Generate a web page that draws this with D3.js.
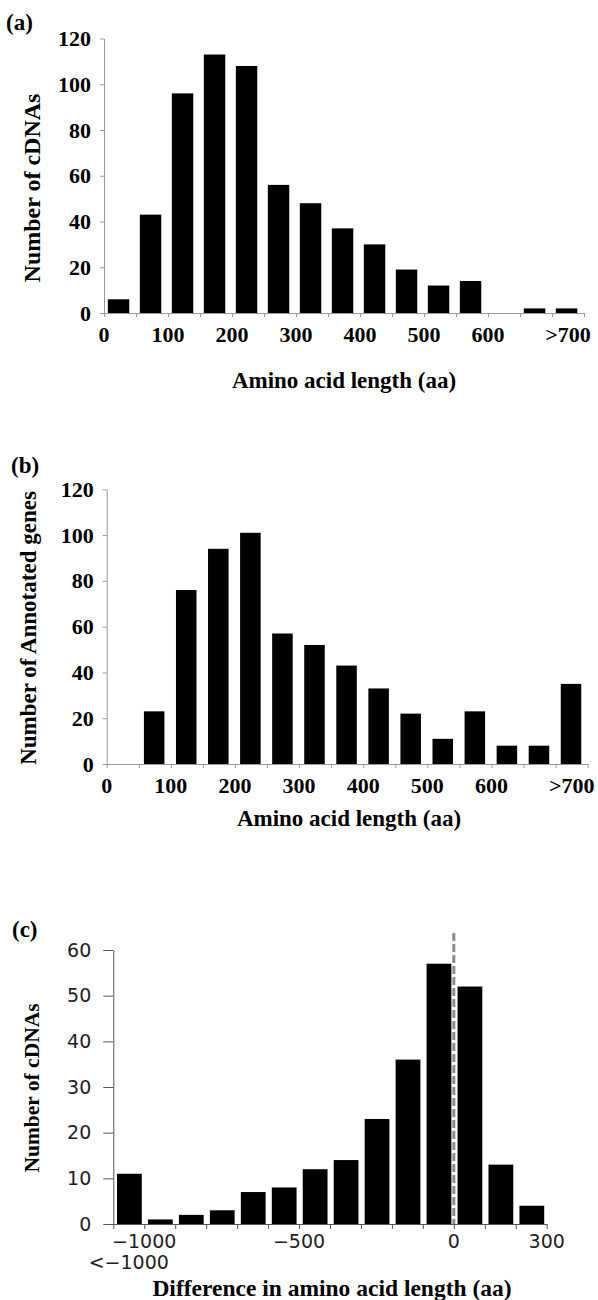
<!DOCTYPE html>
<html>
<head>
<meta charset="utf-8">
<script src="https://cdn.jsdelivr.net/npm/d3@7"></script>
<style>
  body { margin: 0; background: #fff; }
  svg { display: block; }
  .serif { font-family: "Liberation Serif", "Times New Roman", serif; font-weight: bold; }
  .sans { font-family: "DejaVu Sans", sans-serif; }
</style>
</head>
<body>
<svg id="chart" width="598" height="1300"></svg>
<script>
// (a) cDNA lengths, 50 aa bins
const binsA = [0, 50, 100, 150, 200, 250, 300, 350, 400, 450, 500, 550, 600, 650, 700];
const countsA = [6, 43, 96, 113, 108, 56, 48, 37, 30, 19, 12, 14, 0, 2, 2];
const tickLabelsA = ['0', '100', '200', '300', '400', '500', '600', '>700'];
const tickPosA = [0, 100, 200, 300, 400, 500, 600, 725];

// (b) annotated genes, same bins
const binsB = [0, 50, 100, 150, 200, 250, 300, 350, 400, 450, 500, 550, 600, 650, 700];
const countsB = [0, 23, 76, 94, 101, 57, 52, 43, 33, 22, 11, 23, 8, 8, 35];

// (c) difference in length, 100 aa bins (first bin is <-1000)
const binsC = [-1100, -1000, -900, -800, -700, -600, -500, -400, -300, -200, -100, 0, 100, 200];
const countsC = [11, 1, 2, 3, 7, 8, 12, 14, 23, 36, 57, 52, 13, 4];
const tickLabelsC = ['\u22121000', '\u2212500', '0', '300'];
const tickPosC = [-1000, -500, 0, 300];
const yTicksAB = [0, 20, 40, 60, 80, 100, 120];
const yTicksC = [0, 10, 20, 30, 40, 50, 60];

const svg = d3.select('#chart');

function panel(opt) {
    const x = d3.scaleLinear().domain(opt.xDomain).range([opt.left, opt.right]);
    const y = d3.scaleLinear().domain(opt.yDomain).range([opt.bottom, opt.top]);
    const g = svg.append('g');
    const step = opt.step;
    const bw = x(step) - x(0);

    // bars
    g.selectAll('rect.bar')
        .data(opt.bins.map((b, i) => ({ start: b, v: opt.counts[i] })).filter((d) => d.v > 0))
        .enter()
        .append('rect')
        .attr('class', 'bar')
        .attr('x', (d) => x(d.start) + bw * opt.barLeft)
        .attr('width', bw * opt.barWidth)
        .attr('y', (d) => y(d.v))
        .attr('height', (d) => y(0) - y(d.v))
        .attr('fill', '#000');

    // y axis
    const yAxis = d3.axisLeft(y)
        .tickValues(opt.yTicks)
        .tickSize(opt.yTickSize)
        .tickSizeOuter(0)
        .tickPadding(opt.yTickPad);
    const ya = g.append('g')
        .attr('transform', `translate(${opt.left},0)`)
        .call(yAxis);
    ya.select('.domain').attr('stroke', opt.axisColor);
    ya.selectAll('.tick line').attr('stroke', opt.axisColor);
    ya.selectAll('.tick text')
        .attr('class', opt.tickFont)
        .attr('font-size', opt.tickFontSize)
        .attr('fill', opt.tickColor);

    // x axis: tick marks at every bin edge, labels separately
    const edges = opt.bins.concat([opt.bins[opt.bins.length - 1] + step]);
    const xAxis = d3.axisBottom(x)
        .tickValues(edges)
        .tickSize(opt.xTickSize)
        .tickSizeOuter(0)
        .tickFormat('');
    const xa = g.append('g')
        .attr('transform', `translate(0,${opt.bottom})`)
        .call(xAxis);
    xa.select('.domain').attr('stroke', opt.axisColor);
    xa.selectAll('.tick line').attr('stroke', opt.axisColor);

    g.selectAll('text.xlab')
        .data(opt.xLabels)
        .enter()
        .append('text')
        .attr('class', opt.tickFont)
        .attr('x', (d) => x(d.pos))
        .attr('y', (d) => d.y)
        .attr('text-anchor', 'middle')
        .attr('font-size', opt.tickFontSize)
        .attr('fill', opt.tickColor)
        .text((d) => d.text);

    // axis titles
    g.append('text')
        .attr('class', 'serif')
        .attr('x', opt.xTitleX)
        .attr('y', opt.xTitleY)
        .attr('text-anchor', 'middle')
        .attr('font-size', opt.xTitleSize)
        .text(opt.xTitle);

    g.append('text')
        .attr('class', 'serif')
        .attr('transform', `translate(${opt.yTitleX},${opt.yTitleY}) rotate(-90)`)
        .attr('text-anchor', 'middle')
        .attr('font-size', opt.yTitleSize)
        .text(opt.yTitle);

    g.append('text')
        .attr('class', 'serif')
        .attr('x', opt.tagX)
        .attr('y', opt.tagY)
        .attr('font-size', 23)
        .text(opt.tag);

    return { x, y, g };
}

panel({
    tag: '(a)', tagX: 6, tagY: 30,
    bins: binsA, counts: countsA, step: 50,
    xDomain: [0, 750], yDomain: [0, 120],
    left: 104, right: 584, top: 38.5, bottom: 313,
    barLeft: 0.12, barWidth: 0.67,
    yTicks: yTicksAB, yTickSize: 4, yTickPad: 9, xTickSize: 4,
    axisColor: '#9a9a9a', tickFont: 'serif', tickFontSize: 22, tickColor: '#000',
    xLabels: tickPosA.map((p, i) => ({ pos: p, text: tickLabelsA[i], y: 342 })),
    xTitle: 'Amino acid length (aa)', xTitleX: 344, xTitleY: 388, xTitleSize: 23,
    yTitle: 'Number of cDNAs', yTitleX: 40, yTitleY: 188, yTitleSize: 24
});

panel({
    tag: '(b)', tagX: 11, tagY: 473,
    bins: binsB, counts: countsB, step: 50,
    xDomain: [0, 750], yDomain: [0, 120],
    left: 106.7, right: 587.7, top: 489.3, bottom: 764,
    barLeft: 0.16, barWidth: 0.64,
    yTicks: yTicksAB, yTickSize: 4, yTickPad: 9, xTickSize: 4,
    axisColor: '#9a9a9a', tickFont: 'serif', tickFontSize: 22, tickColor: '#000',
    xLabels: tickPosA.map((p, i) => ({ pos: p, text: tickLabelsA[i], y: 793 })),
    xTitle: 'Amino acid length (aa)', xTitleX: 349, xTitleY: 826, xTitleSize: 23,
    yTitle: 'Number of Annotated genes', yTitleX: 36, yTitleY: 628, yTitleSize: 23
});

const pc = panel({
    tag: '(c)', tagX: 12, tagY: 937,
    bins: binsC, counts: countsC, step: 100,
    xDomain: [-1100, 300], yDomain: [0, 60],
    left: 113.3, right: 546.7, top: 950, bottom: 1224,
    barLeft: 0.12, barWidth: 0.8,
    yTicks: yTicksC, yTickSize: 10, yTickPad: 12, xTickSize: 5,
    axisColor: '#555', tickFont: 'sans', tickFontSize: 19, tickColor: '#222',
    xLabels: tickPosC.map((p, i) => ({ pos: p, text: tickLabelsC[i], y: 1248 }))
        .concat([{ pos: -1050, text: '<\u22121000', y: 1269 }]),
    xTitle: 'Difference in amino acid length (aa)', xTitleX: 332, xTitleY: 1296, xTitleSize: 23.5,
    yTitle: 'Number of cDNAs', yTitleX: 39, yTitleY: 1088, yTitleSize: 21.5
});

// dashed reference line at zero difference
pc.g.append('line')
    .attr('x1', pc.x(0))
    .attr('x2', pc.x(0))
    .attr('y1', 933)
    .attr('y2', pc.y(0))
    .attr('stroke', '#8c8c8c')
    .attr('stroke-width', 3)
    .attr('stroke-dasharray', '8,3');
</script>
</body>
</html>
